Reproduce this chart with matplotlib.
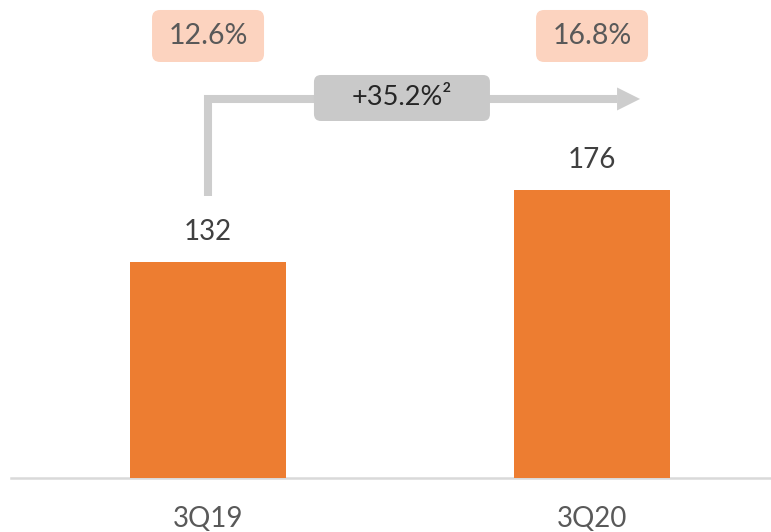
import matplotlib
matplotlib.use("Agg")
import matplotlib.pyplot as plt
import matplotlib.transforms as mtransforms
from matplotlib.patches import FancyBboxPatch, Polygon

# ===================
#  DATA
# ===================
categories = ["3Q19", "3Q20"]
values = [132, 176]
margins = ["12.6%", "16.8%"]
growth_label = "+35.2%\u00b2"

ORANGE = "#ED7D31"
PINK = "#FCD3BF"
GREY_BOX = "#C9C9C9"
GREY_ARROW = "#CDCDCD"
TEXT = "#595959"
VALUE_TEXT = "#404040"
AXIS = "#D9D9D9"

plt.rcParams["font.family"] = ["Lato", "DejaVu Sans"]

fig = plt.figure(figsize=(7.71, 5.32), dpi=100)
ax = fig.add_axes([0, 0, 1, 1])
ax.set_xlim(-0.5417, 1.466)
ax.set_ylim(-33.0, 292.2)
ax.axis("off")

x = list(range(len(categories)))

# bars + baseline
ax.bar(x, values, width=0.404, color=ORANGE, zorder=2)
ax.axhline(0, xmin=11 / 771, xmax=1, color=AXIS, lw=1.8, zorder=1)

for xi, v, cat in zip(x, values, categories):
    ax.annotate(str(v), (xi, v), xytext=(0, 30), textcoords="offset pixels",
                ha="center", va="center", fontsize=20, color=VALUE_TEXT)
    ax.annotate(cat, (xi, 0), xytext=(0, -41), textcoords="offset pixels",
                ha="center", va="center", fontsize=20, color=TEXT)


def rounded_box(cx, cy, w, h, r, color):
    # box size in inches, anchored at a data point
    trans = fig.dpi_scale_trans + mtransforms.ScaledTranslation(cx, cy, ax.transData)
    ax.add_patch(FancyBboxPatch((-w / 2, -h / 2), w, h,
                                boxstyle=f"round,pad=0,rounding_size={r}",
                                transform=trans, facecolor=color,
                                edgecolor="none", zorder=4))


# margin boxes on top
box_y = 270.2
for xi, m in zip(x, margins):
    rounded_box(xi, box_y, 1.12, 0.52, 0.08, PINK)
    ax.text(xi, box_y, m, ha="center", va="center", fontsize=20.5,
            color=TEXT, zorder=5)

# growth arrow: up from first bar label, across to the second bar
arrow_bottom = 172.4
arrow_y = 231.7
tip_x = 1.125
head_len = 23 / 384
head_half = 11.5 / 1.636
ax.plot([x[0], x[0], tip_x - head_len], [arrow_bottom, arrow_y, arrow_y],
        color=GREY_ARROW, lw=5.8, solid_joinstyle="miter",
        solid_capstyle="butt", zorder=3)
ax.add_patch(Polygon([[tip_x - head_len, arrow_y + head_half],
                      [tip_x, arrow_y],
                      [tip_x - head_len, arrow_y - head_half]],
                     closed=True, facecolor=GREY_ARROW, edgecolor="none",
                     zorder=3))

mid_x = 0.505
rounded_box(mid_x, arrow_y + 0.6, 1.76, 0.46, 0.07, GREY_BOX)
ax.text(mid_x, arrow_y + 0.6, growth_label, ha="center", va="center",
        fontsize=19.5, color="#262626", zorder=5)

fig.savefig("out.png", dpi=100)
